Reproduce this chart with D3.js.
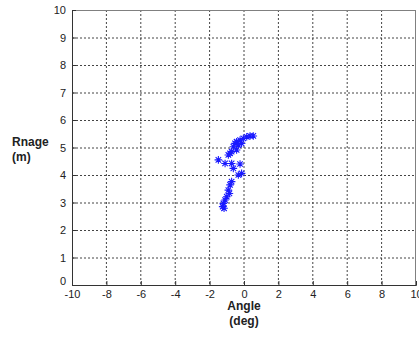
<!DOCTYPE html>
<html><head><meta charset="utf-8">
<script src="https://cdn.jsdelivr.net/npm/d3@7"></script>
<style>body{margin:0;background:#fff}svg{display:block}</style>
</head><body>
<svg id="c" width="419" height="339"></svg>
<script>
const angleDeg = [0.35,0.16,0.54,-0.04,-0.23,-0.43,-0.52,-0.33,-0.62,-0.14,-0.43,-0.72,-0.81,-0.91,-1.49,-1.10,-0.72,-0.62,-0.23,-0.33,-0.14,-0.72,-0.81,-0.91,-0.85,-1.00,-1.10,-1.20,-1.24,-1.16];
const rangeM   = [5.42,5.39,5.42,5.33,5.27,5.21,5.15,5.09,5.03,5.15,4.91,4.85,4.79,4.73,4.55,4.42,4.42,4.24,4.40,4.00,4.06,3.76,3.64,3.45,3.33,3.21,3.09,2.97,2.85,2.79];
const xTicks = [-10,-8,-6,-4,-2,0,2,4,6,8,10];
const yTicks = [0,1,2,3,4,5,6,7,8,9,10];
const xLabel = ["Angle","(deg)"];
const yLabel = ["Rnage","(m)"];

const svg = d3.select("#c");
const L=72, R=416, T=10, B=285;
const x = d3.scaleLinear().domain([-10,10]).range([L,R]);
const y = d3.scaleLinear().domain([0,10]).range([B,T]);
const font = "'Liberation Sans', Arial, sans-serif";

// grid
const g = svg.append("g");
g.selectAll(".vg").data(xTicks.slice(1,-1)).join("line")
  .attr("x1",d=>x(d)).attr("x2",d=>x(d)).attr("y1",T).attr("y2",B)
  .attr("stroke","#444").attr("stroke-width",1).attr("stroke-dasharray","2,2");
g.selectAll(".hg").data(yTicks.slice(1,-1)).join("line")
  .attr("y1",d=>y(d)+0.5).attr("y2",d=>y(d)+0.5).attr("x1",L).attr("x2",R)
  .attr("stroke","#444").attr("stroke-width",1).attr("stroke-dasharray","2,2");

// box
svg.append("line").attr("x1",L).attr("x2",R).attr("y1",T+0.5).attr("y2",T+0.5).attr("stroke","#808080");
svg.append("line").attr("x1",R-0.5).attr("x2",R-0.5).attr("y1",T).attr("y2",B).attr("stroke","#808080");

// axes
const fmt = v => String(v);
const xa = svg.append("g").attr("transform",`translate(0,${B})`)
  .call(d3.axisBottom(x).tickValues(xTicks).tickSize(-4).tickPadding(7).tickFormat(fmt));
const ya = svg.append("g").attr("transform",`translate(${L},0)`)
  .call(d3.axisLeft(y).tickValues(yTicks).tickSize(-4).tickPadding(6).tickFormat(fmt));
[xa,ya].forEach(a=>{
  a.select(".domain").attr("stroke","#333");
  a.selectAll(".tick line").attr("stroke","#333");
  a.selectAll("text").attr("font-family",font).attr("font-size",11).attr("fill","#222");
});
xa.selectAll("text").attr("dy","0.55em");
ya.select(".tick:first-of-type text").attr("dy","-0.05em");

// labels
xLabel.forEach((t,i)=>svg.append("text").attr("x",x(0)).attr("y",310+i*15)
  .attr("text-anchor","middle").attr("font-family",font).attr("font-weight","bold")
  .attr("font-size",12).attr("fill","#222").text(t));
yLabel.forEach((t,i)=>svg.append("text").attr("x",12).attr("y",146+i*15)
  .attr("font-family",font).attr("font-weight","bold")
  .attr("font-size",12).attr("fill","#222").text(t));

// asterisk markers
const s = 3.8, d = s*0.72;
const star = `M${-s},0L${s},0M0,${-s}L0,${s}M${-d},${-d}L${d},${d}M${-d},${d}L${d},${-d}`;
svg.append("g").selectAll("path").data(angleDeg.map((a,i)=>[a,rangeM[i]])).join("path")
  .attr("transform",p=>`translate(${x(p[0])},${y(p[1])})`)
  .attr("d",star).attr("stroke","#1a1aff").attr("stroke-width",1.1).attr("fill","none");
</script>
</body></html>
